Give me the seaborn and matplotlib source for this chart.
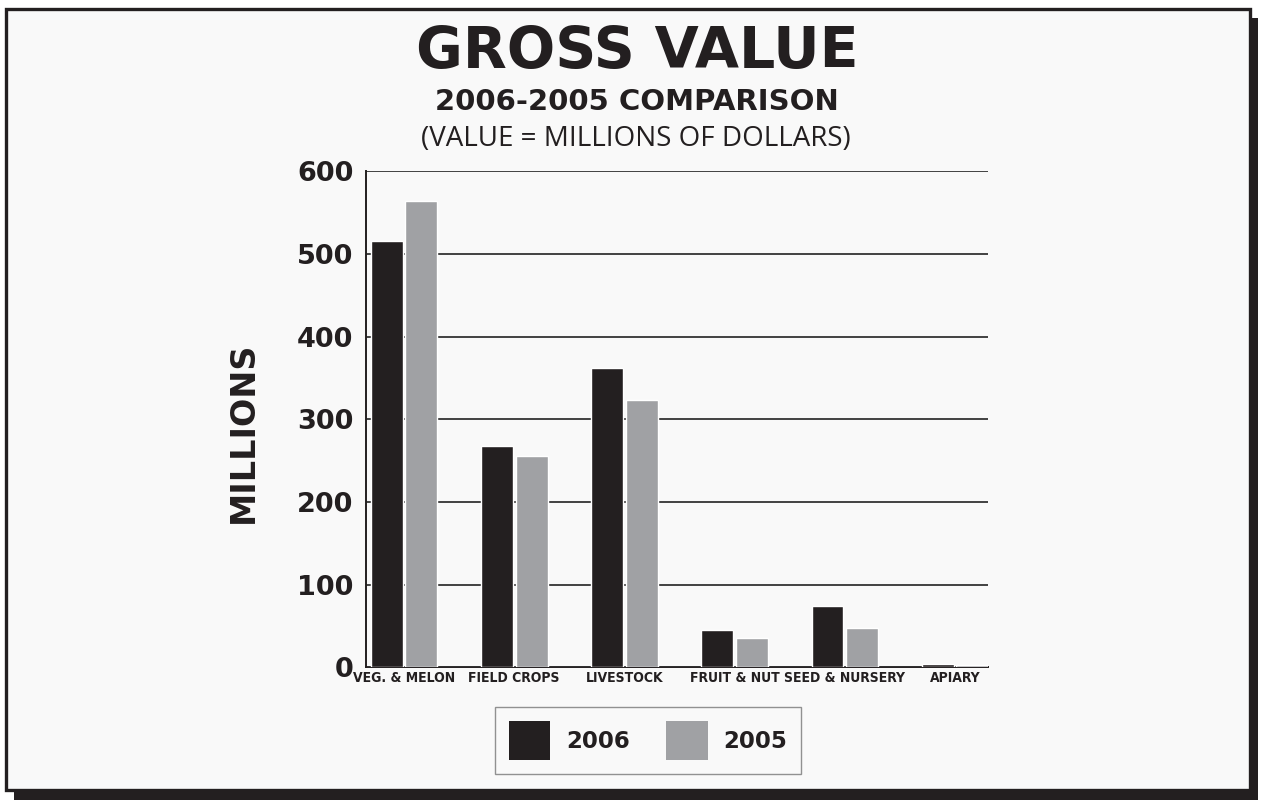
import numpy as np
import pandas as pd
import matplotlib
matplotlib.use("Agg")
import matplotlib.pyplot as plt
from matplotlib.patches import Rectangle, Patch
import seaborn as sns

# Werte (Millionen Dollar)
categories = ["VEG. & MELON", "FIELD CROPS", "LIVESTOCK", "FRUIT & NUT", "SEED & NURSERY", "APIARY"]
years = ["2006", "2005"]
values_2006 = [516, 268, 362, 45, 74, 4]
values_2005 = [564, 255, 323, 35, 47, 3]
y_ticks = [0, 100, 200, 300, 400, 500, 600]

dark = "#231f20"
grey = "#a0a1a4"

df = pd.DataFrame({
    "category": categories * 2,
    "year": [years[0]] * len(categories) + [years[1]] * len(categories),
    "value": values_2006 + values_2005,
})

sns.set_theme(style="white")
plt.rcParams["font.family"] = ["DejaVu Sans"]

fig = plt.figure(figsize=(12.62, 8), dpi=100)
fig.patch.set_facecolor("white")

# Rahmen mit Schatten (Pixelkoordinaten / 100 = Zoll)
inch = fig.dpi_scale_trans
fig.patches.append(Rectangle((0.14, 0.0), 12.44, 7.82, transform=inch,
                             facecolor=dark, edgecolor="none", zorder=-3))
fig.patches.append(Rectangle((0.055, 0.10), 12.44, 7.81, transform=inch,
                             facecolor="#f9f9f9", edgecolor=dark, linewidth=2.4, zorder=-2))

ax = fig.add_axes([0.290, 0.166, 0.493, 0.620])
ax.set_facecolor("none")
sns.barplot(data=df, x="category", y="value", hue="year", palette=[dark, grey],
            width=0.63, gap=0.08, saturation=1, ax=ax, legend=False)

ax.set_ylim(0, 600)
ax.set_xlim(-0.345, 5.3)
ax.set_yticks(y_ticks)
ax.set_yticklabels([str(t) for t in y_ticks], fontsize=19.5, fontweight="heavy", color=dark)
ax.tick_params(axis="y", length=0, pad=9)
ax.tick_params(axis="x", length=0, pad=3)
for lab in ax.get_xticklabels():
    lab.set_family(["DejaVu Sans"])
    lab.set_fontstretch("condensed")
    lab.set_fontweight("bold")
    lab.set_fontsize(10)
    lab.set_color(dark)
ax.set_xlabel("")
ax.set_ylabel("")

ax.yaxis.grid(True, color="#333333", linewidth=1.3)
ax.set_axisbelow(True)
for side in ["top", "right"]:
    ax.spines[side].set_visible(False)
for side in ["left", "bottom"]:
    ax.spines[side].set_color(dark)
    ax.spines[side].set_linewidth(1.4)
ax.spines["bottom"].set_zorder(0.5)

# Titel
fig.text(0.505, 0.915, "GROSS VALUE", ha="center", va="baseline",
         fontsize=41, fontweight="heavy", color=dark)
fig.text(0.505, 0.8625, "2006-2005 COMPARISON", ha="center", va="baseline",
         fontsize=21, fontweight="heavy", color=dark)
fig.text(0.504, 0.818, "(VALUE = MILLIONS OF DOLLARS)", ha="center", va="baseline",
         fontsize=20, family=["Open Sans", "DejaVu Sans"], color=dark)
fig.text(0.1926, 0.459, "MILLIONS", ha="center", va="center", rotation=90,
         fontsize=24, fontweight="heavy", color=dark)

handles = [Patch(facecolor=dark, edgecolor="none", label=years[0]),
           Patch(facecolor=grey, edgecolor="none", label=years[1])]
leg = fig.legend(handles=handles, loc="center", bbox_to_anchor=(0.5135, 0.074), ncol=2,
                 frameon=True, fancybox=False, handlelength=1.8, handleheight=2.25,
                 handletextpad=0.7, columnspacing=1.6, borderpad=0.6,
                 prop={"weight": "heavy", "size": 16.5})
leg.get_frame().set_edgecolor("#777777")
leg.get_frame().set_linewidth(1.0)
leg.get_frame().set_facecolor("#f9f9f9")
for t in leg.get_texts():
    t.set_color(dark)

fig.savefig("out.png", dpi=100)
